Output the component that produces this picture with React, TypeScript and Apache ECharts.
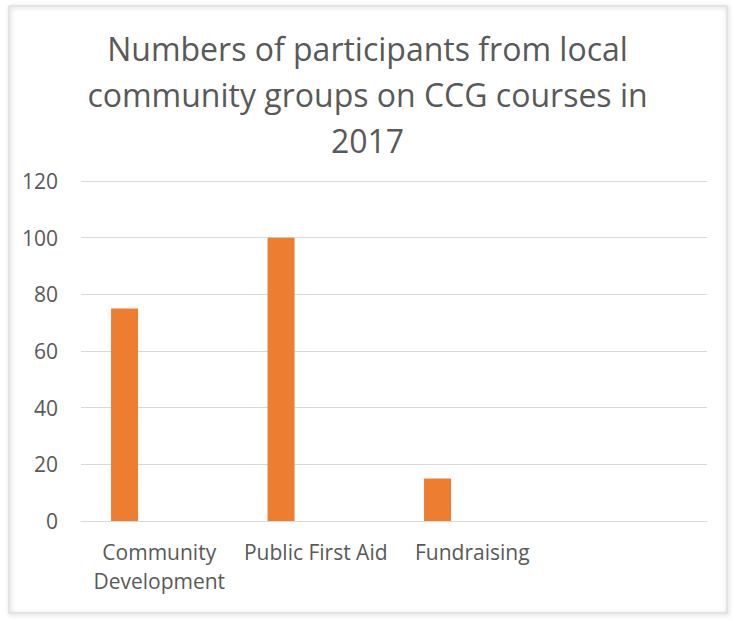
import React, { useEffect, useRef } from "react";
import * as echarts from "echarts";

const titleText = "Numbers of participants from local\ncommunity groups on CCG courses in\n2017";
const categories = ["Community\nDevelopment", "Public First Aid", "Fundraising", ""];
const participants = [75, 100, 15, null];
const placeholder = [null, null, null, null];
const yMin = 0;
const yMax = 120;
const yStep = 20;

const FONT = "'Open Sans', sans-serif";
const TEXT = "#595959";

export default function App() {
  const ref = useRef<HTMLDivElement>(null);
  useEffect(() => {
    if (!ref.current) return;
    const chart = echarts.init(ref.current, null, { renderer: "svg" });
    chart.setOption({
      animation: false,
      backgroundColor: "#ffffff",
      title: {
        text: titleText,
        left: "center",
        top: 25,
        padding: 0,
        textStyle: {
          fontFamily: FONT,
          fontSize: 32,
          fontWeight: "normal",
          color: TEXT,
          lineHeight: 46,
          align: "center",
        },
      },
      graphic: [
        {
          type: "rect",
          shape: { x: 9, y: 6, width: 718, height: 607 },
          style: {
            fill: "none",
            stroke: "#d0d0d0",
            lineWidth: 1,
            shadowBlur: 4,
            shadowColor: "rgba(0,0,0,0.35)",
            shadowOffsetX: 1,
            shadowOffsetY: 1,
          },
          silent: true,
          z: -1,
        },
      ],
      grid: { left: 81, right: 28, top: 181, bottom: 102, containLabel: false },
      xAxis: {
        type: "category",
        data: categories,
        axisLine: { show: true, lineStyle: { color: "#d9d9d9", width: 1 } },
        axisTick: { show: false },
        axisLabel: {
          color: TEXT,
          fontFamily: FONT,
          fontSize: 21,
          lineHeight: 29,
          margin: 16,
          interval: 0,
        },
      },
      yAxis: {
        type: "value",
        min: yMin,
        max: yMax,
        interval: yStep,
        axisLine: { show: false },
        axisTick: { show: false },
        splitLine: { lineStyle: { color: "#d9d9d9", width: 1 } },
        axisLabel: {
          color: TEXT,
          fontFamily: FONT,
          fontSize: 21,
          margin: 23,
        },
      },
      series: [
        {
          name: "Participants",
          type: "bar",
          data: participants,
          barWidth: 27,
          barGap: "157%",
          itemStyle: { color: "#ed7d31" },
        },
        {
          name: "Placeholder",
          type: "bar",
          data: placeholder,
          barWidth: 27,
          itemStyle: { color: "#a5a5a5" },
        },
      ],
    });
    return () => chart.dispose();
  }, []);
  return (
    <div
      ref={ref}
      style={{ position: "fixed", left: 0, top: 0, width: 735, height: 623, background: "#fff" }}
    />
  );
}
